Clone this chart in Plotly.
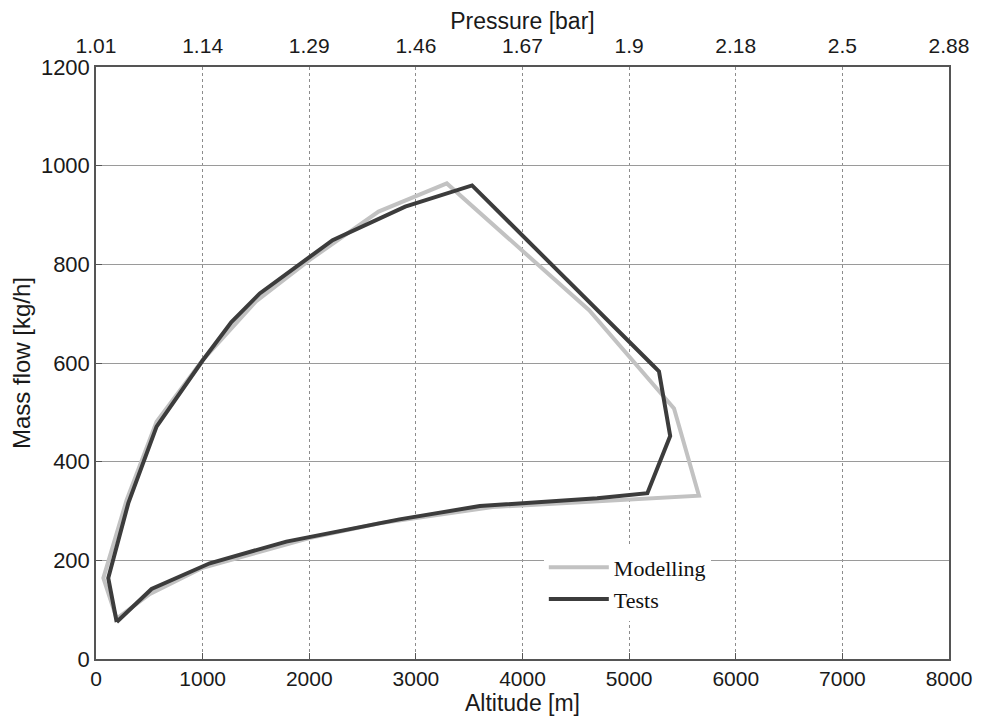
import plotly.graph_objects as go

# Data
model_alt = [194, 69, 287, 568, 1000, 1500, 2004, 2650, 3290, 4625, 5421, 5655, 3720, 2659, 2000, 1000, 506, 194]
model_flow = [82, 164, 322, 481, 606, 725, 809, 907, 964, 707, 508, 331, 308, 275, 245, 185, 132, 82]

test_alt = [194, 115, 303, 568, 1000, 1270, 1536, 2219, 2900, 3527, 5220, 5280, 5385, 5171, 4700, 3600, 2846, 2004, 1785, 1067, 521, 194]
test_flow = [75, 164, 316, 471, 605, 683, 741, 849, 917, 960, 596, 583, 452, 336, 326, 310, 283, 248, 238, 194, 142, 75]

alt_ticks = [0, 1000, 2000, 3000, 4000, 5000, 6000, 7000, 8000]
pressure_labels = ["1.01", "1.14", "1.29", "1.46", "1.67", "1.9", "2.18", "2.5", "2.88"]
flow_ticks = [0, 200, 400, 600, 800, 1000, 1200]

FONT = "Liberation Sans, Arial, sans-serif"

fig = go.Figure()
fig.add_trace(go.Scatter(x=model_alt, y=model_flow, mode="lines", name="Modelling",
                         line=dict(color="#c2c2c2", width=4)))
fig.add_trace(go.Scatter(x=test_alt, y=test_flow, mode="lines", name="Tests",
                         line=dict(color="#3c3c3c", width=4)))
# invisible trace to activate top axis
fig.add_trace(go.Scatter(x=[0, 8000], y=[0, 0], xaxis="x2", mode="lines",
                         line=dict(width=0), showlegend=False, hoverinfo="skip", opacity=0))

fig.update_layout(
    width=984, height=710,
    margin=dict(l=88, r=43, t=59, b=59),
    paper_bgcolor="white", plot_bgcolor="white",
    font=dict(family=FONT, size=20, color="#1a1a1a"),
    xaxis=dict(range=[0, 8000], tickvals=alt_ticks, showgrid=True, automargin=False,
               gridcolor="#8c8c8c", gridwidth=1, griddash="dot",
               showline=True, linecolor="#555555", linewidth=1.5, mirror=True,
               ticks="inside", ticklen=6, tickcolor="#555555", zeroline=False,
               title=dict(text="Altitude [m]", standoff=5, font=dict(size=23)),
               tickfont=dict(size=21)),
    xaxis2=dict(range=[0, 8000], overlaying="x", side="top", tickvals=alt_ticks,
                ticktext=pressure_labels, showgrid=False, showline=False, automargin=False,
                ticks="", zeroline=False, ticklabelstandoff=9,
                title=dict(text="Pressure [bar]", standoff=2, font=dict(size=23)),
                tickfont=dict(size=21)),
    yaxis=dict(range=[0, 1200], tickvals=flow_ticks, showgrid=True, automargin=False,
               gridcolor="#9a9a9a", gridwidth=1,
               showline=True, linecolor="#555555", linewidth=1.5, mirror=True,
               ticks="inside", ticklen=6, tickcolor="#555555", zeroline=False,
               title=dict(text="Mass flow [kg/h]", standoff=6, font=dict(size=24)),
               tickfont=dict(size=22)),
    legend=dict(x=0.525, y=0.19, xanchor="left", yanchor="top",
                bgcolor="white", borderwidth=0,
                font=dict(family="Liberation Serif, Times New Roman, serif", size=22, color="#111111"),
                tracegroupgap=0, itemwidth=60),
    showlegend=True,
)

fig.write_html("out.html")
